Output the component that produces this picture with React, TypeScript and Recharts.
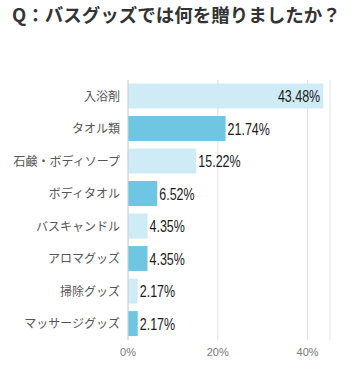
import React from 'react';
import { BarChart, Bar, XAxis, YAxis, CartesianGrid, Cell, LabelList } from 'recharts';

const categories = ['入浴剤', 'タオル類', '石鹸・ボディソープ', 'ボディタオル', 'バスキャンドル', 'アロマグッズ', '掃除グッズ', 'マッサージグッズ'];
const values = [43.48, 21.74, 15.22, 6.52, 4.35, 4.35, 2.17, 2.17];
const xTicks = [0, 20, 40];
const colors = ['#ceebf6', '#6ec6e3'];

const data = categories.map((name, i) => ({ name, value: values[i] }));

const renderLabel = (props: any) => {
  const { x, y, width, height, value } = props;
  const inside = value > 40;
  const tx = inside ? x + width - 3 : x + width + 2;
  return (
    <text
      transform={`translate(${tx},${y + height / 2 + 6}) scale(0.78,1)`}
      x={0}
      y={0}
      textAnchor={inside ? 'end' : 'start'}
      fill="#1a1a1a"
      fontSize={16}
      fontFamily="'Liberation Sans', Arial, sans-serif"
    >
      {value.toFixed(2)}%
    </text>
  );
};

export default function App() {
  return (
    <div style={{ position: 'absolute', left: 0, top: 0, width: 359, height: 370, background: '#fff' }}>
      <div
        style={{
          position: 'absolute',
          left: 12,
          top: 1,
          fontFamily: "'Noto Sans CJK JP', sans-serif",
          fontWeight: 700,
          fontSize: 18.5,
          color: '#333',
          whiteSpace: 'nowrap',
        }}
      >
        Q：バスグッズでは何を贈りましたか？
      </div>
      <BarChart
        width={359}
        height={370}
        data={data}
        layout="vertical"
        margin={{ top: 80, right: 29, left: 0, bottom: 0 }}
        barCategoryGap="11%"
      >
        <CartesianGrid horizontal={false} stroke="#e2e2e2" />
        <XAxis
          type="number"
          domain={[0, 45]}
          ticks={xTicks}
          tickFormatter={(v: number) => `${v}%`}
          axisLine={false}
          tickLine={false}
          height={30}
          tick={{ fill: '#777', fontSize: 11, fontFamily: "'Liberation Sans', Arial, sans-serif" }}
        />
        <YAxis
          type="category"
          dataKey="name"
          width={128}
          axisLine={{ stroke: '#d0d0d0' }}
          tickLine={false}
          tickMargin={2}
          tick={{ fill: '#555', fontSize: 12, fontFamily: "'Noto Sans CJK JP', sans-serif" }}
        />
        <Bar dataKey="value" isAnimationActive={false}>
          {data.map((d, i) => (
            <Cell key={d.name} fill={colors[i % 2]} />
          ))}
          <LabelList dataKey="value" content={renderLabel} />
        </Bar>
      </BarChart>
    </div>
  );
}
